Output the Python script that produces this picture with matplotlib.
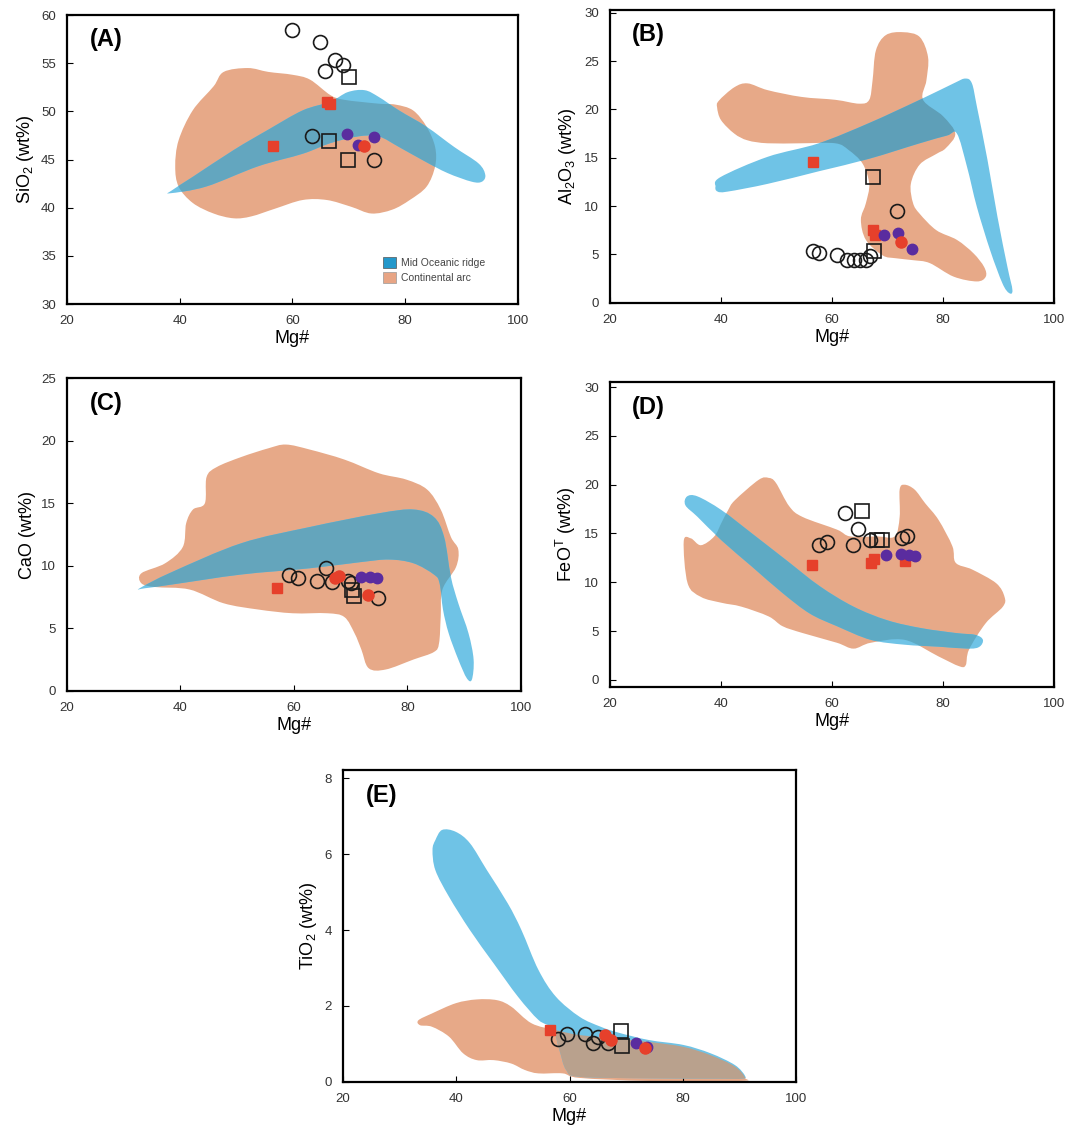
import matplotlib
matplotlib.use('Agg')
import numpy as np
import matplotlib.pyplot as plt
from matplotlib.patches import PathPatch, Patch
from matplotlib.path import Path

plt.rcParams['font.family'] = ['Liberation Sans', 'DejaVu Sans']
plt.rcParams['mathtext.fontset'] = 'custom'
plt.rcParams['mathtext.rm'] = 'Liberation Sans'
plt.rcParams['mathtext.it'] = 'Liberation Sans:italic'

# %% Field outlines (Mg#, oxide wt%)
sio2_mor = [(38.3, 41.5), (44.7, 42.2), (53.9, 44.3), (61.8, 45.6), (66.7, 46.7),
            (71.6, 47.4), (75.3, 47.4), (78.9, 46.3), (83.2, 44.9), (87.5, 43.6),
            (91.8, 42.7), (93.6, 42.7), (94.2, 43.4), (93.0, 44.6), (88.7, 46.3),
            (83.8, 48.4), (78.9, 50.1), (75.3, 51.5), (72.8, 52.2), (69.8, 52.0),
            (66.7, 51.0), (61.8, 50.1), (55.7, 48.1), (49.6, 46.0), (42.3, 43.2),
            (38.6, 41.8)]
sio2_arc = [(39.8, 47.0), (42.3, 50.1), (46.0, 52.6), (47.8, 54.1), (52.1, 54.5),
            (55.7, 54.1), (60.0, 53.8), (63.1, 53.3), (66.7, 51.7), (69.2, 51.2),
            (75.3, 50.8), (78.3, 50.7), (81.4, 50.1), (83.8, 48.4), (85.3, 46.3),
            (85.3, 44.3), (83.8, 42.2), (80.8, 40.8), (77.7, 39.8), (74.0, 39.4),
            (70.4, 40.1), (66.1, 40.8), (61.8, 40.8), (56.9, 39.9), (52.7, 39.1),
            (49.6, 38.9), (46.0, 39.4), (42.3, 40.5), (39.8, 42.2), (39.2, 44.3)]

al2o3_mor = [(39.0, 12.0), (39.9, 13.0), (48.4, 15.1), (57.6, 16.5), (66.7, 18.6),
             (75.8, 21.0), (81.9, 22.7), (84.0, 23.2), (85.2, 22.7), (86.1, 20.3),
             (88.0, 14.8), (89.8, 8.9), (91.6, 3.7), (92.5, 1.3), (91.9, 1.0),
             (90.7, 2.0), (88.5, 5.4), (86.1, 9.9), (84.3, 14.1), (82.5, 17.5),
             (80.7, 17.3), (75.8, 16.5), (66.7, 14.9), (57.6, 13.6), (48.4, 12.3),
             (41.2, 11.5), (39.4, 11.5)]
al2o3_arc = [(39.6, 20.9), (42.4, 22.3), (44.8, 22.7), (48.4, 22.0), (54.5, 21.3),
             (60.6, 21.0), (64.9, 20.6), (66.7, 21.0), (67.3, 23.0), (67.9, 26.1),
             (69.7, 27.7), (72.8, 28.0), (75.8, 27.5), (77.3, 25.4), (77.0, 23.0),
             (76.4, 21.0), (80.0, 19.3), (82.2, 17.5), (80.5, 16.0), (78.8, 15.4),
             (75.8, 14.3), (74.2, 12.3), (74.6, 10.3), (75.8, 9.2), (78.8, 7.5),
             (82.5, 6.5), (85.5, 5.1), (87.4, 3.7), (87.7, 2.7), (86.1, 2.2),
             (81.9, 2.7), (77.6, 4.1), (74.6, 4.4), (71.5, 4.6), (69.1, 4.9),
             (66.1, 6.5), (65.2, 8.6), (66.1, 10.3), (66.7, 12.3), (65.5, 14.4),
             (63.0, 15.8), (60.6, 16.5), (54.5, 16.5), (48.4, 16.5), (44.8, 16.8),
             (42.4, 17.5), (40.0, 18.9), (39.3, 20.2)]

cao_mor = [(32.8, 8.2), (38.5, 9.5), (50.7, 11.8), (62.8, 13.1), (75.0, 14.2),
           (81.1, 14.5), (84.7, 13.9), (86.5, 12.3), (87.7, 9.1), (89.0, 7.0),
           (90.8, 4.6), (91.7, 2.5), (91.4, 0.9), (90.5, 1.0), (89.0, 2.5),
           (87.3, 4.6), (86.3, 6.5), (85.7, 8.6), (84.7, 9.3), (81.1, 10.2),
           (76.8, 10.5), (71.9, 10.3), (62.8, 9.8), (50.7, 9.3), (38.5, 8.5),
           (33.7, 8.2)]
cao_arc = [(33.1, 9.4), (37.3, 10.2), (40.4, 11.5), (41.0, 13.4), (42.2, 14.5),
           (44.3, 15.0), (44.6, 17.1), (46.4, 17.9), (50.7, 18.7), (55.5, 19.4),
           (58.6, 19.7), (62.8, 19.3), (68.9, 18.5), (75.0, 17.4), (79.8, 16.9),
           (83.5, 16.1), (85.9, 14.5), (87.7, 12.3), (89.0, 11.3), (88.6, 9.9),
           (86.2, 8.1), (85.9, 5.9), (85.6, 3.8), (84.7, 3.1), (81.1, 2.5),
           (76.2, 1.7), (73.2, 1.8), (71.9, 3.3), (70.7, 4.6), (68.9, 5.9),
           (65.9, 6.2), (59.8, 6.2), (53.7, 6.5), (47.6, 7.0), (41.6, 8.1),
           (35.5, 8.3), (33.1, 8.6)]

feo_mor = [(33.9, 18.8), (35.8, 18.8), (40.1, 17.4), (45.6, 15.0), (51.7, 12.3),
           (57.8, 9.6), (63.9, 7.5), (70.0, 6.1), (76.1, 5.3), (82.3, 4.8),
           (85.9, 4.6), (87.2, 4.1), (86.6, 3.4), (84.7, 3.2), (79.2, 3.4),
           (73.1, 3.6), (67.0, 4.1), (60.9, 5.5), (56.0, 6.8), (51.1, 8.9),
           (45.6, 11.6), (40.1, 14.3), (35.8, 16.7), (33.6, 17.9)]
feo_arc = [(33.3, 14.2), (34.0, 9.9), (36.4, 8.5), (40.1, 7.9), (43.7, 7.5),
           (48.6, 6.5), (51.1, 5.5), (54.7, 4.8), (60.9, 3.8), (63.9, 3.2),
           (67.0, 3.8), (73.1, 4.1), (79.2, 2.4), (82.9, 1.4), (84.1, 1.5),
           (84.7, 3.1), (87.7, 5.8), (90.8, 7.5), (91.1, 8.5), (89.6, 9.9),
           (85.3, 11.3), (82.3, 12.0), (81.7, 13.7), (79.2, 16.4), (76.8, 18.1),
           (74.9, 19.5), (73.1, 20.0), (72.2, 19.5), (72.2, 16.7), (71.3, 14.7),
           (68.2, 14.7), (63.3, 14.7), (60.9, 15.4), (54.7, 16.7), (52.3, 17.8),
           (49.9, 20.2), (48.6, 20.7), (46.8, 20.5), (42.5, 18.4), (41.3, 17.4),
           (40.1, 16.1), (38.8, 14.7), (36.4, 13.8), (34.6, 14.5)]

tio2_mor = [(35.8, 6.11), (36.3, 6.37), (37.5, 6.64), (39.9, 6.59), (42.4, 6.29),
            (45.4, 5.58), (49.1, 4.70), (51.5, 4.00), (54.5, 2.95), (57.6, 2.24),
            (61.8, 1.71), (65.5, 1.45), (68.5, 1.30), (74.0, 1.10), (80.1, 0.97),
            (84.9, 0.75), (89.2, 0.44), (91.0, 0.15), (90.4, 0.08), (86.0, 0.08),
            (74.0, 0.09), (61.8, 0.13), (59.4, 0.31), (58.2, 0.84), (57.0, 1.40),
            (54.5, 1.63), (50.9, 2.24), (46.6, 3.12), (42.4, 4.00), (38.7, 4.88),
            (36.3, 5.58)]
tio2_arc = [(33.3, 1.62), (35.7, 1.80), (39.9, 2.07), (43.6, 2.17), (47.2, 2.15),
            (49.7, 1.98), (53.3, 1.54), (57.6, 1.36), (61.8, 1.23), (67.9, 1.14),
            (74.0, 1.05), (80.1, 0.92), (84.9, 0.70), (89.2, 0.40), (91.0, 0.10),
            (90.0, 0.02), (74.0, 0.02), (61.8, 0.10), (58.8, 0.22), (54.5, 0.22),
            (52.1, 0.31), (49.7, 0.48), (46.6, 0.57), (43.6, 0.57), (41.2, 0.75),
            (38.7, 1.19), (35.7, 1.45), (33.6, 1.49)]

# %% Samples: open circles, open squares, red squares, purple circles, red circles
sio2_circ_mg = [59.9, 64.9, 67.6, 69.0, 65.8, 63.4, 74.4]
sio2_circ = [58.4, 57.2, 55.3, 54.8, 54.2, 47.4, 45.0]
sio2_sq_mg = [70.1, 66.5, 69.8]
sio2_sq = [53.6, 46.9, 45.0]
sio2_redsq_mg = [56.5, 66.2, 66.6]
sio2_redsq = [46.4, 51.0, 50.8]
sio2_purp_mg = [69.6, 74.5, 71.6]
sio2_purp = [47.7, 47.3, 46.5]
sio2_redc_mg = [72.6]
sio2_redc = [46.4]

al2o3_circ_mg = [56.5, 57.7, 60.9, 62.7, 63.9, 65.0, 66.2, 66.8, 71.7]
al2o3_circ = [5.4, 5.1, 4.9, 4.4, 4.4, 4.4, 4.4, 4.8, 9.5]
al2o3_sq_mg = [67.3, 67.5]
al2o3_sq = [13.0, 5.3]
al2o3_redsq_mg = [56.5, 67.4, 67.7]
al2o3_redsq = [14.6, 7.5, 7.0]
al2o3_purp_mg = [69.4, 71.8, 74.4]
al2o3_purp = [7.0, 7.2, 5.6]
al2o3_redc_mg = [72.4]
al2o3_redc = [6.3]

cao_circ_mg = [59.1, 60.8, 64.0, 65.7, 66.7, 74.8, 69.6, 70.1]
cao_circ = [9.3, 9.0, 8.8, 9.8, 8.7, 7.4, 8.8, 8.6]
cao_sq_mg = [70.6, 70.3]
cao_sq = [7.6, 8.1]
cao_redsq_mg = [57.0]
cao_redsq = [8.2]
cao_purp_mg = [71.9, 73.4, 74.6]
cao_purp = [9.1, 9.1, 9.0]
cao_redc_mg = [68.0, 67.2, 73.0]
cao_redc = [9.2, 9.0, 7.7]

feo_circ_mg = [62.4, 64.7, 57.6, 59.1, 63.8, 66.8, 72.7, 73.5]
feo_circ = [17.1, 15.5, 13.8, 14.1, 13.8, 14.3, 14.5, 14.7]
feo_sq_mg = [65.5, 68.1, 69.1]
feo_sq = [17.3, 14.3, 14.3]
feo_redsq_mg = [56.4, 67.1, 67.5, 73.1]
feo_redsq = [11.8, 12.0, 12.4, 12.2]
feo_purp_mg = [69.7, 72.4, 73.9, 75.0]
feo_purp = [12.8, 12.9, 12.8, 12.7]
feo_redc_mg = []
feo_redc = []

tio2_circ_mg = [58.0, 59.5, 62.7, 64.2, 65.1, 66.8]
tio2_circ = [1.14, 1.27, 1.27, 1.01, 1.19, 1.01]
tio2_sq_mg = [69.0, 69.2]
tio2_sq = [1.35, 0.95]
tio2_redsq_mg = [56.5]
tio2_redsq = [1.36]
tio2_purp_mg = [71.8, 73.6]
tio2_purp = [1.01, 0.92]
tio2_redc_mg = [66.2, 67.4, 73.3]
tio2_redc = [1.23, 1.10, 0.88]

ARC = '#e7a988'
MOR = '#6fc3e6'
RED = '#e6402b'
PURPLE = '#5a2c9f'


def outline(pts):
    # closed Catmull-Rom outline through the field vertices, as cubic Beziers
    p = np.asarray(pts, dtype=float)
    n = len(p)
    verts = [p[0]]
    codes = [Path.MOVETO]
    for i in range(n):
        p0, p1, p2, p3 = p[i - 1], p[i], p[(i + 1) % n], p[(i + 2) % n]
        verts += [p1 + (p2 - p0) / 6.0, p2 - (p3 - p1) / 6.0, p2]
        codes += [Path.CURVE4] * 3
    verts.append(p[0])
    codes.append(Path.CLOSEPOLY)
    return Path(verts, codes)


def draw_fields(ax, mor, arc, overlap):
    # arc field underneath, MOR field above, and the shared area recoloured
    arc_patch = PathPatch(outline(arc), facecolor=ARC, edgecolor='none', zorder=1)
    ax.add_patch(arc_patch)
    ax.add_patch(PathPatch(outline(mor), facecolor=MOR, edgecolor='none', zorder=2))
    ov = PathPatch(outline(mor), facecolor=overlap, edgecolor='none', zorder=3)
    ax.add_patch(ov)
    ov.set_clip_path(arc_patch)


def draw_samples(ax, circ, sq, redsq, purp, redc):
    ax.plot(*circ, ls='none', marker='o', ms=10, mfc='none', mec='#1a1a1a',
            mew=1.2, zorder=5)
    ax.plot(*sq, ls='none', marker='s', ms=10, mfc='none', mec='#1a1a1a',
            mew=1.2, zorder=5)
    ax.plot(*redsq, ls='none', marker='s', ms=7.5, mfc=RED, mec=RED, zorder=6)
    ax.plot(*purp, ls='none', marker='o', ms=7.5, mfc=PURPLE, mec=PURPLE, zorder=6)
    ax.plot(*redc, ls='none', marker='o', ms=8, mfc=RED, mec=RED, zorder=7)


def style_axes(ax, ylim, yticks, ylabel, tag):
    ax.set_xlim(20, 100)
    ax.set_ylim(*ylim)
    ax.set_xticks([20, 40, 60, 80, 100])
    ax.set_yticks(yticks)
    ax.tick_params(direction='in', length=4, width=0.8, labelsize=9.5,
                   labelcolor='#333333', pad=8)
    for s in ax.spines.values():
        s.set_linewidth(1.6)
    ax.set_xlabel('Mg#', fontsize=13, labelpad=2)
    ax.set_ylabel(ylabel, fontsize=13, labelpad=4)
    ax.text(0.05, 0.955, tag, transform=ax.transAxes, fontsize=17,
            fontweight='bold', va='top', ha='left')


fig = plt.figure(figsize=(10.7, 11.32), dpi=100)
axA = fig.add_axes([0.0626, 0.7314, 0.4215, 0.2553])
axB = fig.add_axes([0.5701, 0.7326, 0.4150, 0.2586])
axC = fig.add_axes([0.0627, 0.3898, 0.4239, 0.2760])
axD = fig.add_axes([0.5700, 0.3934, 0.4150, 0.2689])
axE = fig.add_axes([0.3206, 0.0444, 0.4234, 0.2754])

# (A) SiO2
draw_fields(axA, sio2_mor, sio2_arc, '#63a6bf')
draw_samples(axA, (sio2_circ_mg, sio2_circ), (sio2_sq_mg, sio2_sq),
             (sio2_redsq_mg, sio2_redsq), (sio2_purp_mg, sio2_purp),
             (sio2_redc_mg, sio2_redc))
style_axes(axA, (30, 60), [30, 35, 40, 45, 50, 55, 60], r'SiO$_\mathrm{2}$ (wt%)', '(A)')
handles = [Patch(facecolor='#2398cb', edgecolor='#555555', lw=0.5),
           Patch(facecolor='#e8a585', edgecolor='#999999', lw=0.5)]
axA.legend(handles, ['Mid Oceanic ridge', 'Continental arc'], loc='lower left',
           bbox_to_anchor=(0.68, 0.04), frameon=False, fontsize=7.5,
           handlelength=1.2, handleheight=1.2, handletextpad=0.5,
           labelspacing=0.4, labelcolor='#444444')

# (B) Al2O3
draw_fields(axB, al2o3_mor, al2o3_arc, '#5e9fb8')
draw_samples(axB, (al2o3_circ_mg, al2o3_circ), (al2o3_sq_mg, al2o3_sq),
             (al2o3_redsq_mg, al2o3_redsq), (al2o3_purp_mg, al2o3_purp),
             (al2o3_redc_mg, al2o3_redc))
style_axes(axB, (0, 30.3), [0, 5, 10, 15, 20, 25, 30],
           r'Al$_\mathrm{2}$O$_\mathrm{3}$ (wt%)', '(B)')

# (C) CaO
draw_fields(axC, cao_mor, cao_arc, '#64a5bc')
draw_samples(axC, (cao_circ_mg, cao_circ), (cao_sq_mg, cao_sq),
             (cao_redsq_mg, cao_redsq), (cao_purp_mg, cao_purp),
             (cao_redc_mg, cao_redc))
style_axes(axC, (0, 25), [0, 5, 10, 15, 20, 25], 'CaO (wt%)', '(C)')

# (D) FeOT
draw_fields(axD, feo_mor, feo_arc, '#5eaac4')
draw_samples(axD, (feo_circ_mg, feo_circ), (feo_sq_mg, feo_sq),
             (feo_redsq_mg, feo_redsq), (feo_purp_mg, feo_purp),
             (feo_redc_mg, feo_redc))
style_axes(axD, (-0.7, 30.5), [0, 5, 10, 15, 20, 25, 30],
           r'FeO$^\mathrm{T}$ (wt%)', '(D)')

# (E) TiO2
draw_fields(axE, tio2_mor, tio2_arc, '#b9a18d')
draw_samples(axE, (tio2_circ_mg, tio2_circ), (tio2_sq_mg, tio2_sq),
             (tio2_redsq_mg, tio2_redsq), (tio2_purp_mg, tio2_purp),
             (tio2_redc_mg, tio2_redc))
style_axes(axE, (0, 8.22), [0, 2, 4, 6, 8], r'TiO$_\mathrm{2}$ (wt%)', '(E)')

fig.savefig('out.png', dpi=100)
